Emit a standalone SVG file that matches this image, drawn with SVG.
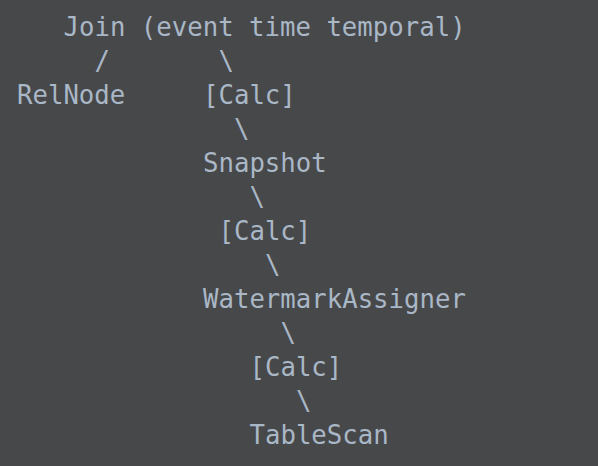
<svg xmlns="http://www.w3.org/2000/svg" width="598" height="466" viewBox="0 0 598 466">
<style>
text{font-family:"DejaVu Sans Mono","Liberation Mono",monospace;font-size:25.7px;fill:#a9b7c6;white-space:pre}
</style>
<rect width="598" height="466" fill="#47484a"/>
<g id="join"><text x="63.5" y="36">Join (event time temporal)</text></g>
<g id="connectors">
<text x="94.5" y="70">/</text>
<text x="218.5" y="70">\</text>
<text x="234" y="138">\</text>
<text x="249.5" y="206">\</text>
<text x="265" y="274">\</text>
<text x="280.5" y="342">\</text>
<text x="296" y="410">\</text>
</g>
<g id="relnode"><text x="17" y="104">RelNode</text></g>
<g id="calc1"><text x="203" y="104">[Calc]</text></g>
<g id="snapshot"><text x="203" y="172">Snapshot</text></g>
<g id="calc2"><text x="218.5" y="240">[Calc]</text></g>
<g id="watermark"><text x="203" y="308">WatermarkAssigner</text></g>
<g id="calc3"><text x="249.5" y="376">[Calc]</text></g>
<g id="tablescan"><text x="249.5" y="444">TableScan</text></g>
</svg>
